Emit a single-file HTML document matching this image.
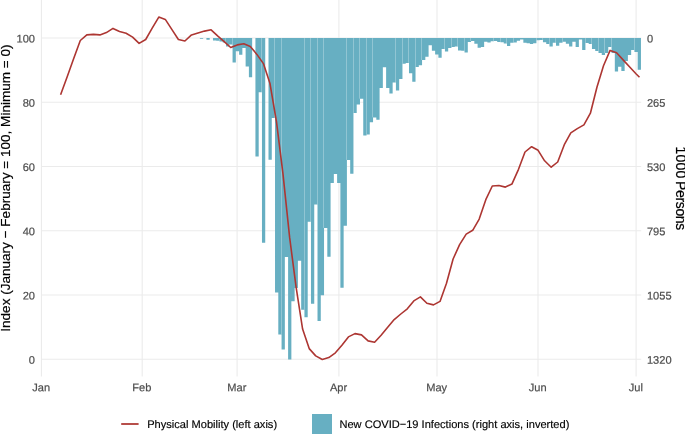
<!DOCTYPE html>
<html lang="en"><head><meta charset="utf-8"><title>Physical Mobility and New COVID-19 Infections</title>
<style>html,body{margin:0;padding:0;background:#fff}body{width:685px;height:434px;overflow:hidden}svg{display:block}text{font-family:"Liberation Sans",Arial,Helvetica,sans-serif}.t{font-size:11.08px;fill:#4d4d4d;stroke:#4d4d4d;stroke-width:0.2px}.a{font-size:13.56px;fill:#000;stroke:#000;stroke-width:0.2px}.l{font-size:11.08px;fill:#000;stroke:#000;stroke-width:0.15px}</style></head><body>
<svg width="685" height="434" viewBox="0 0 685 434">
<rect width="685" height="434" fill="#fff"/>
<g stroke="#ebebeb" stroke-width="1.07" fill="none">
<line x1="41.4" x2="641.2" y1="38.00" y2="38.00"/>
<line x1="41.4" x2="641.2" y1="102.26" y2="102.26"/>
<line x1="41.4" x2="641.2" y1="166.52" y2="166.52"/>
<line x1="41.4" x2="641.2" y1="230.78" y2="230.78"/>
<line x1="41.4" x2="641.2" y1="295.04" y2="295.04"/>
<line x1="41.4" x2="641.2" y1="359.30" y2="359.30"/>
<line x1="41.43" x2="41.43" y1="0" y2="376.6"/>
<line x1="142.20" x2="142.20" y1="0" y2="376.6"/>
<line x1="237.10" x2="237.10" y1="0" y2="376.6"/>
<line x1="338.90" x2="338.90" y1="0" y2="376.6"/>
<line x1="437.00" x2="437.00" y1="0" y2="376.6"/>
<line x1="538.00" x2="538.00" y1="0" y2="376.6"/>
<line x1="636.10" x2="636.10" y1="0" y2="376.6"/>
</g>
<path fill="#67afc2" d="M199.89,38.10V38.70H203.16V38.10H206.42V39.80H209.69V38.10H212.96V40.50H216.23V40.70H219.49V41.60H222.76V42.60H226.03V46.60H229.29V44.60H232.56V62.40H235.83V51.30H239.10V54.80H242.36V48.00H245.63V66.60H248.90V77.30H252.16V38.10H255.43V156.60H258.70V92.30H261.97V242.70H265.23V38.10H268.50V159.80H271.77V117.90H275.03V292.60H278.30V334.40H281.57V349.50H284.84V257.10H288.10V359.40H291.37V301.20H294.64V288.00H297.91V260.80H301.17V309.70H304.44V317.30H307.71V221.80H310.97V303.70H314.24V204.50H317.51V321.00H320.78V295.20H324.04V227.90H327.31V256.70H330.58V183.10H333.84V173.90H337.11V183.10H340.38V287.80H343.65V225.70H346.91V159.90H350.18V173.70H353.45V112.90H356.71V104.50H359.98V98.70H363.25V135.50H366.52V134.40H369.78V122.30H373.05V117.40H376.32V119.70H379.59V87.90H382.85V67.30H386.12V87.90H389.39V93.40H392.65V82.60H395.92V90.60H399.19V78.90H402.46V63.70H405.72V62.90H408.99V73.20H412.26V81.80H415.52V66.90H418.79V65.30H422.06V60.00H425.33V56.80H428.59V45.20H431.86V50.80H435.13V54.50H438.39V57.70H441.66V49.00H444.93V51.40H448.20V47.90H451.46V46.90H454.73V46.40H458.00V50.40H461.27V50.80H464.53V52.40H467.80V41.90H471.07V41.10H474.33V43.80H477.60V47.80H480.87V46.90H484.14V41.70H487.40V42.60H490.67V41.30H493.94V40.90H497.20V41.90H500.47V42.30H503.74V43.40H507.01V46.00H510.27V42.80H513.54V42.60H516.81V40.70H520.07V39.60H523.34V42.80H526.61V43.20H529.88V44.00H533.14V43.20H536.41V40.30H539.68V39.90H542.95V42.30H546.21V44.00H549.48V46.60H552.75V42.80H556.01V45.80H559.28V42.80H562.55V41.70H565.82V43.80H569.08V46.60H572.35V41.70H575.62V47.00H578.88V39.60H582.15V50.10H585.42V43.10H588.69V44.00H591.95V48.90H595.22V50.90H598.49V53.00H601.75V55.10H605.02V53.00H608.29V47.00H611.56V53.00H614.82V71.40H618.09V66.80H621.36V71.00H624.63V61.00H627.89V55.10H631.16V49.90H634.43V51.90H637.69V69.70H640.96V38.10Z"/>
<g fill="#fff">
<rect x="219" y="38.10" width="1" height="2.60" fill-opacity="0.28"/>
<rect x="225" y="38.10" width="1" height="4.50" fill-opacity="0.28"/>
<rect x="232" y="38.10" width="1" height="6.50" fill-opacity="0.28"/>
<rect x="261" y="38.10" width="1" height="54.20" fill-opacity="0.28"/>
<rect x="274" y="38.10" width="1" height="79.80" fill-opacity="0.28"/>
<rect x="281" y="38.10" width="1" height="296.30" fill-opacity="0.28"/>
<rect x="304" y="38.10" width="1" height="271.60" fill-opacity="0.28"/>
<rect x="310" y="38.10" width="1" height="183.70" fill-opacity="0.28"/>
<rect x="317" y="38.10" width="1" height="166.40" fill-opacity="0.28"/>
<rect x="323" y="38.10" width="1" height="189.80" fill-opacity="0.28"/>
<rect x="346" y="38.10" width="1" height="121.80" fill-opacity="0.28"/>
<rect x="353" y="38.10" width="1" height="74.80" fill-opacity="0.28"/>
<rect x="359" y="38.10" width="1" height="60.60" fill-opacity="0.28"/>
<rect x="366" y="38.10" width="1" height="96.30" fill-opacity="0.28"/>
<rect x="372" y="38.10" width="1" height="79.30" fill-opacity="0.28"/>
<rect x="395" y="38.10" width="1" height="44.50" fill-opacity="0.28"/>
<rect x="402" y="38.10" width="1" height="25.60" fill-opacity="0.28"/>
<rect x="408" y="38.10" width="1" height="24.80" fill-opacity="0.28"/>
<rect x="415" y="38.10" width="1" height="28.80" fill-opacity="0.28"/>
<rect x="421" y="38.10" width="1" height="21.90" fill-opacity="0.28"/>
<rect x="444" y="38.10" width="1" height="10.90" fill-opacity="0.28"/>
<rect x="451" y="38.10" width="1" height="8.80" fill-opacity="0.28"/>
<rect x="457" y="38.10" width="1" height="8.30" fill-opacity="0.28"/>
<rect x="464" y="38.10" width="1" height="12.70" fill-opacity="0.28"/>
<rect x="470" y="38.10" width="1" height="3.00" fill-opacity="0.28"/>
<rect x="493" y="38.10" width="1" height="2.80" fill-opacity="0.28"/>
<rect x="500" y="38.10" width="1" height="3.80" fill-opacity="0.28"/>
<rect x="506" y="38.10" width="1" height="5.30" fill-opacity="0.28"/>
<rect x="513" y="38.10" width="1" height="4.50" fill-opacity="0.28"/>
<rect x="536" y="38.10" width="1" height="2.20" fill-opacity="0.28"/>
<rect x="542" y="38.10" width="1" height="1.80" fill-opacity="0.28"/>
<rect x="549" y="38.10" width="1" height="5.90" fill-opacity="0.28"/>
<rect x="555" y="38.10" width="1" height="4.70" fill-opacity="0.28"/>
<rect x="562" y="38.10" width="1" height="3.60" fill-opacity="0.28"/>
<rect x="585" y="38.10" width="1" height="5.00" fill-opacity="0.28"/>
<rect x="591" y="38.10" width="1" height="5.90" fill-opacity="0.28"/>
<rect x="598" y="38.10" width="1" height="12.80" fill-opacity="0.28"/>
<rect x="604" y="38.10" width="1" height="14.90" fill-opacity="0.28"/>
<rect x="611" y="38.10" width="1" height="8.90" fill-opacity="0.28"/>
<rect x="634" y="38.10" width="1" height="11.80" fill-opacity="0.28"/>
</g>
<polyline fill="none" stroke="#ad3632" stroke-width="1.6" stroke-linejoin="round" points="60.6,94.7 67.2,76.7 73.7,58.4 80.3,40.5 86.8,34.9 93.4,34.4 99.9,34.9 106.4,32.6 113.0,28.4 119.5,31.4 126.1,33.2 132.6,37.1 139.1,43.4 145.7,39.5 152.2,28.2 158.8,17.1 165.3,19.4 171.8,29.4 178.4,39.5 184.9,41.0 191.5,34.9 198.0,32.9 204.5,31.1 211.1,29.8 217.6,35.8 224.2,41.6 230.7,47.5 237.2,44.9 243.8,43.8 250.3,46.5 256.9,54.4 263.4,63.6 269.9,83.2 276.5,121.8 283.0,174.2 289.6,237.2 296.1,287.1 302.6,329.1 309.2,348.6 315.7,355.9 322.3,359.5 328.8,357.6 335.4,352.8 341.9,345.3 348.4,336.9 355.0,333.6 361.5,334.9 368.1,340.9 374.6,342.2 381.1,335.3 387.7,327.2 394.2,319.6 400.8,314.0 407.3,308.8 413.8,300.9 420.4,296.9 426.9,303.3 433.5,304.9 440.0,301.4 446.5,283.2 453.1,259.0 459.6,244.6 466.2,234.1 472.7,230.3 479.2,219.1 485.8,199.7 492.3,186.0 498.9,185.5 505.4,187.1 511.9,184.1 518.5,169.3 525.0,152.0 531.6,146.7 538.1,150.3 544.6,160.8 551.2,167.2 557.7,162.0 564.3,144.7 570.8,132.8 577.3,128.6 583.9,124.9 590.4,113.2 597.0,87.0 603.5,65.8 610.1,50.4 616.6,52.8 623.1,59.9 629.7,67.0 636.2,74.0 639.5,77.3"/>
<text class="t" transform="translate(35.0 42.50) rotate(0.03)" text-anchor="end">100</text>
<text class="t" transform="translate(35.0 106.76) rotate(0.03)" text-anchor="end">80</text>
<text class="t" transform="translate(35.0 171.02) rotate(0.03)" text-anchor="end">60</text>
<text class="t" transform="translate(35.0 235.28) rotate(0.03)" text-anchor="end">40</text>
<text class="t" transform="translate(35.0 299.54) rotate(0.03)" text-anchor="end">20</text>
<text class="t" transform="translate(35.0 363.80) rotate(0.03)" text-anchor="end">0</text>
<text class="t" transform="translate(646.9 42.50) rotate(0.03)">0</text>
<text class="t" transform="translate(646.9 106.76) rotate(0.03)">265</text>
<text class="t" transform="translate(646.9 171.02) rotate(0.03)">530</text>
<text class="t" transform="translate(646.9 235.28) rotate(0.03)">795</text>
<text class="t" transform="translate(646.9 299.54) rotate(0.03)">1055</text>
<text class="t" transform="translate(646.9 363.80) rotate(0.03)">1320</text>
<text class="t" transform="translate(41.13 391.2) rotate(0.03)" text-anchor="middle">Jan</text>
<text class="t" transform="translate(141.90 391.2) rotate(0.03)" text-anchor="middle">Feb</text>
<text class="t" transform="translate(236.80 391.2) rotate(0.03)" text-anchor="middle">Mar</text>
<text class="t" transform="translate(338.60 391.2) rotate(0.03)" text-anchor="middle">Apr</text>
<text class="t" transform="translate(436.70 391.2) rotate(0.03)" text-anchor="middle">May</text>
<text class="t" transform="translate(537.70 391.2) rotate(0.03)" text-anchor="middle">Jun</text>
<text class="t" transform="translate(635.80 391.2) rotate(0.03)" text-anchor="middle">Jul</text>
<text class="a" transform="translate(10.4 188.1) rotate(-90)" text-anchor="middle">Index (January − February = 100, Minimum = 0)</text>
<text class="a" style="font-size:14px" transform="translate(675.8 146.4) rotate(90)" xml:space="preserve"><tspan letter-spacing="0.25">1000 </tspan><tspan x="34.6" letter-spacing="-0.35">Persons</tspan></text>
<line x1="121.2" x2="138.6" y1="424" y2="424" stroke="#ad3632" stroke-width="1.75"/>
<text class="l" transform="translate(147.2 428.0) rotate(0.03)">Physical Mobility (left axis)</text>
<rect x="312" y="414" width="20" height="20" fill="#67afc2"/>
<text class="l" transform="translate(339.4 428.0) rotate(0.03)">New COVID−19 Infections (right axis, inverted)</text>
</svg></body></html>
